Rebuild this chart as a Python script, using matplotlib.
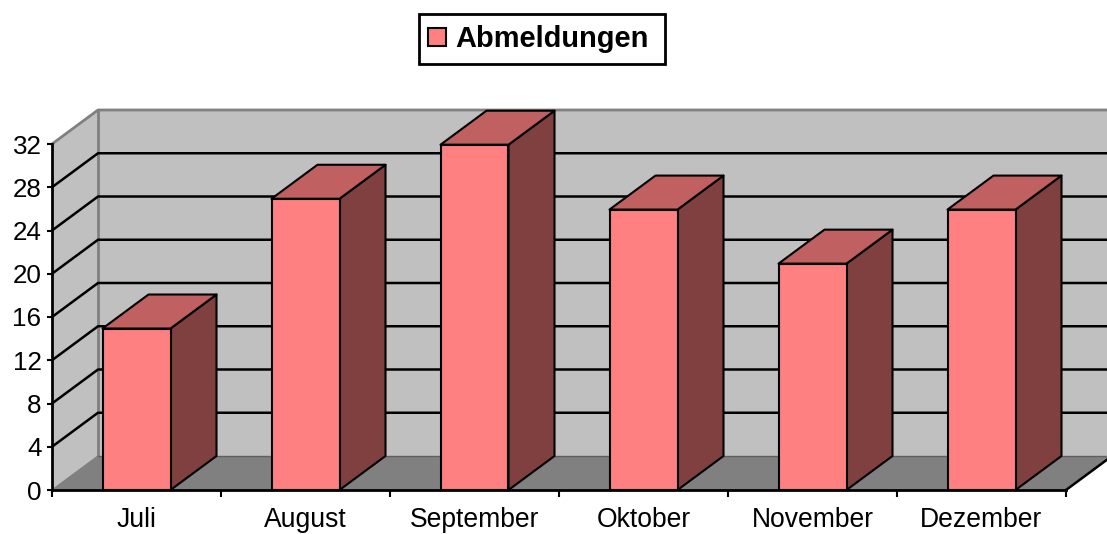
import matplotlib
matplotlib.use("Agg")
import matplotlib.pyplot as plt
from matplotlib.patches import Polygon, Rectangle

months = ["Juli", "August", "September", "Oktober", "November", "Dezember"]
abmeldungen = [15, 27, 32, 26, 21, 26]
value_ticks = [0, 4, 8, 12, 16, 20, 24, 28, 32]
series_name = "Abmeldungen"

W, H = 1107, 534
LEFT, RIGHT, TOP, BOTTOM = 52, 1066, 144, 490
DX, DY = 46, 34          # depth offset in pixels
BAR_PX = 68

plt.rcParams["font.family"] = ["Liberation Sans", "DejaVu Sans"]
fig = plt.figure(figsize=(W / 100, H / 100), dpi=100, facecolor="white")
ax = fig.add_axes([LEFT / W, 1 - BOTTOM / H, (RIGHT - LEFT) / W, (BOTTOM - TOP) / H])
ax.set_xlim(0, len(months))
ax.set_ylim(0, value_ticks[-1])
ax.patch.set_visible(False)

ux = (RIGHT - LEFT) / len(months)
uy = (BOTTOM - TOP) / value_ticks[-1]
ddx, ddy = DX / ux, DY / uy   # depth in data units
n, vmax = len(months), value_ticks[-1]

WALL, FLOOR = "#c0c0c0", "#808080"
FACE, SIDE, TOPC = "#ff8080", "#804040", "#c06060"
LW = 1.5


def poly(pts, fc, ec="none", lw=0, z=1):
    ax.add_patch(Polygon(pts, closed=True, fc=fc, ec=ec, lw=lw, zorder=z,
                         clip_on=False, joinstyle="round"))


# walls and floor
poly([(0, 0), (ddx, ddy), (n + ddx, ddy), (n + ddx, vmax + ddy), (ddx, vmax + ddy), (0, vmax)], WALL, z=1)
poly([(0, 0), (n, 0), (n + ddx, ddy), (ddx, ddy)], FLOOR, z=1.1)
ax.plot([ddx, ddx], [ddy, vmax + ddy], color=FLOOR, lw=2, clip_on=False, zorder=1.2, solid_capstyle="butt")
ax.plot([0, ddx], [0, ddy], color=FLOOR, lw=1, clip_on=False, zorder=1.2)
ax.plot([0, ddx, n + ddx], [vmax, vmax + ddy, vmax + ddy], color=FLOOR, lw=2, clip_on=False, zorder=1.2)
ax.plot([ddx, n + ddx], [ddy, ddy], color="#606060", lw=1, clip_on=False, zorder=1.2)

# gridlines
for t in value_ticks[1:-1]:
    ax.plot([0, ddx, n + ddx], [t, t + ddy, t + ddy], color="black", lw=LW + 0.3, clip_on=False, zorder=1.5)
ax.plot([n, n + ddx], [0, ddy], color="black", lw=LW + 0.3, clip_on=False, zorder=1.5)

# bars
bw = BAR_PX / ux
off = 50.5 / ux
sink = 0.7 / uy
for i, v in enumerate(abmeldungen):
    x0, x1 = i + off, i + off + bw
    top = v - sink
    poly([(x1, 0), (x1 + ddx, ddy), (x1 + ddx, top + ddy), (x1, top)], SIDE, "black", LW, 3)
    poly([(x0, top), (x1, top), (x1 + ddx, top + ddy), (x0 + ddx, top + ddy)], TOPC, "black", LW, 3)
    poly([(x0, 0), (x1, 0), (x1, top), (x0, top)], FACE, "black", LW, 4)

# axes
for s in ("top", "right"):
    ax.spines[s].set_visible(False)
for s in ("left", "bottom"):
    ax.spines[s].set_linewidth(2)
    ax.spines[s].set_zorder(5)
ax.set_yticks(value_ticks)
ax.set_yticklabels([str(t) for t in value_ticks], fontsize=18.7)
ax.set_xticks(range(n + 1))
ax.set_xticklabels([])
ax.tick_params(axis="y", length=3.6, width=1.5, pad=4, color="black")
ax.tick_params(axis="x", length=5, width=1.5, color="black")
for i, m in enumerate(months):
    ax.annotate(m, xy=(i + 0.5, 0), xytext=(0, -12), textcoords="offset points",
                ha="center", va="top", fontsize=19.1, annotation_clip=False)

# legend
lx0, ly0, lx1, ly1 = 418.5, 13.5, 665, 63.5
fig.add_artist(Rectangle((lx0 / W, 1 - ly1 / H), (lx1 - lx0) / W, (ly1 - ly0) / H, transform=fig.transFigure,
                         fc="white", ec="black", lw=2))
fig.add_artist(Rectangle((428 / W, 1 - 46 / H), 18 / W, 18 / H, transform=fig.transFigure,
                         fc=FACE, ec="black", lw=1.5))
fig.text(455 / W, 1 - 39 / H, series_name, fontsize=20.9, fontweight="bold", ha="left", va="center")

fig.savefig("out.png", dpi=100)
